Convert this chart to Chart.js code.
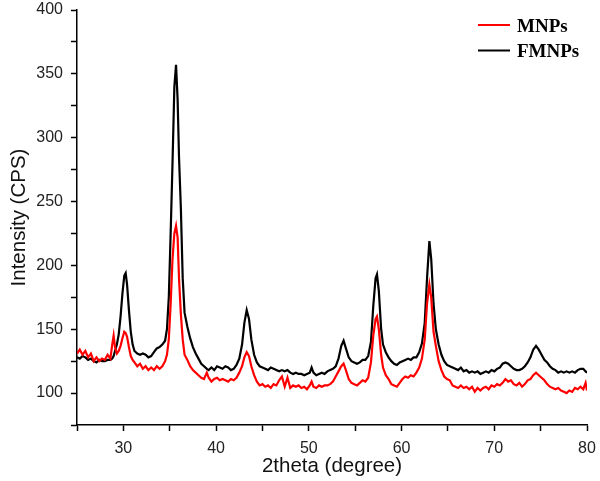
<!DOCTYPE html>
<html>
<head>
<meta charset="utf-8">
<title>XRD MNPs / FMNPs</title>
<script src="https://cdn.jsdelivr.net/npm/chart.js@4.4.1/dist/chart.umd.min.js"></script>
<style>
  html, body { margin: 0; padding: 0; background: #fff; }
  #wrap { width: 600px; height: 481px; }
</style>
</head>
<body>
<div id="wrap"><canvas id="xrdChart" width="600" height="481"></canvas></div>
<script>
// --- data ---
const twoTheta = [
  25.0, 25.3, 25.6, 25.9, 26.2, 26.5, 26.8, 27.1, 27.4, 27.7, 28.0, 28.3, 28.6, 28.8, 28.95,
  29.1, 29.3, 29.5, 29.7, 29.9, 30.1, 30.25, 30.4, 30.6, 30.8, 31.0, 31.2, 31.5, 31.8, 32.1,
  32.4, 32.7, 33.0, 33.3, 33.6, 33.9, 34.2, 34.5, 34.7, 34.9, 35.1, 35.3, 35.5, 35.68, 35.85,
  36.0, 36.2, 36.4, 36.6, 36.9, 37.2, 37.5, 37.8, 38.1, 38.4, 38.7, 39.0, 39.2, 39.5, 39.8,
  40.1, 40.4, 40.7, 41.0, 41.3, 41.6, 41.9, 42.2, 42.5, 42.8, 43.05, 43.3, 43.55, 43.8, 44.1,
  44.4, 44.7, 45.0, 45.3, 45.6, 45.9, 46.2, 46.5, 46.8, 47.1, 47.4, 47.7, 48.0, 48.3, 48.6,
  48.9, 49.2, 49.5, 49.8, 50.1, 50.3, 50.5, 50.8, 51.1, 51.4, 51.7, 52.0, 52.3, 52.6, 52.9,
  53.2, 53.5, 53.75, 54.0, 54.3, 54.6, 54.9, 55.2, 55.5, 55.8, 56.1, 56.4, 56.7, 56.95, 57.2,
  57.35, 57.55, 57.8, 58.0, 58.3, 58.6, 58.9, 59.2, 59.5, 59.8, 60.1, 60.4, 60.7, 61.0, 61.3,
  61.6, 61.9, 62.2, 62.5, 62.75, 63.0, 63.2, 63.45, 63.7, 64.0, 64.3, 64.6, 64.9, 65.2, 65.5,
  65.8, 66.1, 66.4, 66.7, 67.0, 67.3, 67.6, 67.9, 68.2, 68.5, 68.8, 69.1, 69.4, 69.7, 70.0,
  70.3, 70.6, 70.9, 71.2, 71.5, 71.8, 72.1, 72.4, 72.7, 73.0, 73.3, 73.6, 73.9, 74.2, 74.5,
  74.8, 75.1, 75.4, 75.7, 76.0, 76.3, 76.6, 76.9, 77.2, 77.5, 77.8, 78.1, 78.4, 78.7, 79.0,
  79.3, 79.6, 79.85, 80.0
];

const mnps = [
  131, 134, 130, 133, 128, 131, 125, 128, 125, 127, 126, 130, 127, 138, 145,
  136, 131, 133, 137, 143, 148, 147, 144, 136, 129, 126, 124, 121, 123, 119,
  121, 118, 120, 118, 121, 119, 121, 125, 130, 142, 170, 205, 225, 231, 222,
  190, 162, 142, 130, 126, 121, 118, 116, 114, 112, 111, 116, 112, 109, 111,
  112, 110, 111, 110, 109, 111, 110, 112, 116, 121, 128, 132, 129, 121, 114,
  109, 106, 107, 105, 106, 104, 107, 106, 110, 113, 105, 112, 104, 106, 105,
  106, 104, 105, 103, 106, 109, 105, 104, 106, 105, 106, 106, 107, 109, 113,
  117, 121, 123, 118, 111, 108, 107, 106, 108, 110, 109, 112, 124, 145, 158,
  160, 150, 130, 120, 114, 111, 107, 106, 105, 108, 111, 113, 112, 114, 113,
  116, 120, 127, 142, 170, 185, 175, 148, 137, 125, 118, 113, 111, 110, 106,
  105, 104, 106, 104, 105, 103, 105, 101, 104, 102, 104, 105, 103, 106, 105,
  107, 106, 108, 111, 109, 110, 107, 106, 108, 105, 107, 110, 111, 114, 116,
  114, 112, 110, 107, 105, 104, 103, 104, 102, 101, 100, 102, 101, 104, 103,
  105, 103, 108, 102
];

const fmnps = [
  128, 127, 129, 128, 126, 127, 125, 124, 126, 125, 125, 126, 126, 127, 129,
  133, 138, 146, 160, 178, 192, 194, 185, 165, 148, 138, 133, 131, 130, 131,
  130, 128, 129, 132, 135, 136, 138, 141, 150, 175, 225, 280, 340, 357, 330,
  285, 245, 190, 163, 152, 143, 136, 131, 127, 123, 121, 119, 118, 120, 118,
  121, 120, 119, 121, 120, 118, 119, 122, 127, 138, 155, 165, 158, 142, 130,
  124, 121, 120, 119, 118, 120, 119, 118, 117, 118, 117, 118, 116, 115, 116,
  115, 115, 114, 115, 116, 120, 116, 114, 115, 116, 115, 117, 118, 119, 121,
  127, 137, 141, 135, 128, 125, 124, 123, 124, 126, 126, 129, 140, 168, 190,
  193, 180, 150, 138, 132, 128, 125, 123, 122, 124, 125, 126, 127, 126, 128,
  128, 132, 139, 155, 190, 219, 205, 170, 150, 138, 130, 125, 122, 121, 120,
  119, 118, 120, 117, 118, 116, 117, 116, 117, 115, 116, 117, 116, 118, 117,
  119, 120, 123, 124, 123, 121, 119, 118, 118, 119, 121, 124, 128, 134, 137,
  134, 130, 126, 124, 121, 119, 118, 116, 117, 116, 117, 116, 117, 116, 118,
  119, 119, 117, 116
];

const seriesNames = ['MNPs', 'FMNPs'];
const seriesColors = ['#ff0000', '#000000'];
const xTickLabels = [30, 40, 50, 60, 70, 80];
const yTickLabels = [100, 150, 200, 250, 300, 350, 400];

const toPoints = (ys) => twoTheta.map((x, i) => ({ x: x, y: ys[i] }));

// --- legend in the top right corner, serif bold like the original ---
const cornerLegend = {
  id: 'cornerLegend',
  afterDraw(chart) {
    const ctx = chart.ctx;
    ctx.save();
    chart.data.datasets.forEach((ds, i) => {
      const y = 25 + i * 25.5;
      ctx.strokeStyle = ds.borderColor;
      ctx.lineWidth = 2;
      ctx.beginPath();
      ctx.moveTo(478, y);
      ctx.lineTo(510, y);
      ctx.stroke();
      ctx.fillStyle = '#000';
      ctx.font = 'bold 19px "Liberation Serif", "Times New Roman", serif';
      ctx.textBaseline = 'middle';
      ctx.fillText(ds.label, 517, y + 2);
    });
    ctx.restore();
  }
};

const axisFont = { family: '"Liberation Sans", Arial, sans-serif', size: 16 };
const titleFont = { family: '"Liberation Sans", Arial, sans-serif', size: 20.5 };

new Chart(document.getElementById('xrdChart'), {
  type: 'line',
  data: {
    datasets: [
      {
        label: seriesNames[0],
        data: toPoints(mnps),
        borderColor: seriesColors[0],
        borderWidth: 2.2,
        pointRadius: 0,
        tension: 0,
        fill: false
      },
      {
        label: seriesNames[1],
        data: toPoints(fmnps),
        borderColor: seriesColors[1],
        borderWidth: 2.2,
        pointRadius: 0,
        tension: 0,
        fill: false
      }
    ]
  },
  options: {
    responsive: false,
    animation: false,
    events: [],
    layout: { padding: { top: 10, right: 13, left: 0, bottom: 0 } },
    plugins: {
      legend: { display: false },
      tooltip: { enabled: false }
    },
    scales: {
      x: {
        type: 'linear',
        min: 25,
        max: 80,
        ticks: {
          stepSize: 5,
          autoSkip: false,
          maxRotation: 0,
          padding: 8,
          color: '#222',
          font: axisFont,
          callback: (v) => xTickLabels.includes(v) ? String(v) : ''
        },
        grid: { drawOnChartArea: false, tickLength: 6, tickColor: '#000', tickWidth: 1.5 },
        border: { color: '#000', width: 1.5 },
        title: {
          display: true,
          text: '2theta (degree)',
          color: '#111',
          font: titleFont,
          padding: { top: 0, bottom: 2 }
        },
        afterFit: (scale) => {
          scale.height = 56;
          scale.paddingLeft = 0;
          scale.paddingRight = 0;
        }
      },
      y: {
        min: 75,
        max: 400,
        ticks: {
          stepSize: 25,
          autoSkip: false,
          padding: 8,
          color: '#222',
          font: axisFont,
          callback: (v) => yTickLabels.includes(v) ? String(v) : ''
        },
        grid: { drawOnChartArea: false, tickLength: 6, tickColor: '#000', tickWidth: 1.5 },
        border: { color: '#000', width: 1.5 },
        title: {
          display: true,
          text: 'Intensity (CPS)',
          color: '#111',
          font: titleFont,
          padding: { top: 7, bottom: 0 }
        },
        afterFit: (scale) => {
          scale.width = 77;
          scale.paddingTop = 0;
          scale.paddingBottom = 0;
        }
      }
    }
  },
  plugins: [cornerLegend]
});
</script>
</body>
</html>
